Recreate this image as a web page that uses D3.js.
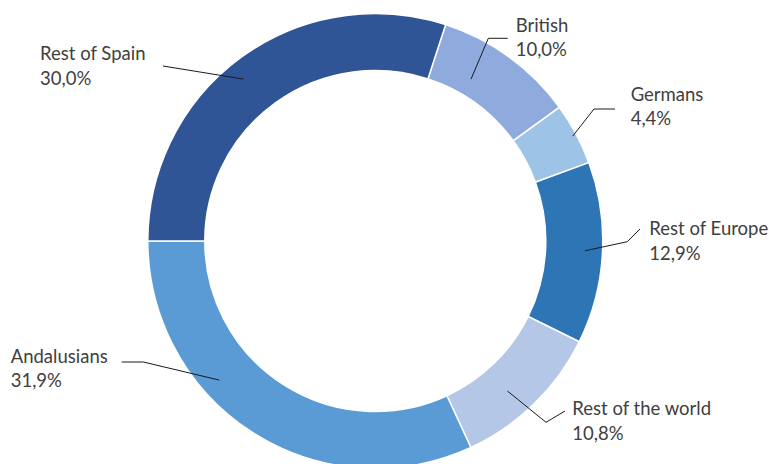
<!DOCTYPE html>
<html>
<head>
<meta charset="utf-8">
<script src="https://cdn.jsdelivr.net/npm/d3@7"></script>
<style>
  html, body { margin: 0; padding: 0; background: #fff; }
  svg { display: block; }
  text { font-family: Lato, "Open Sans", sans-serif; fill: #404040; }
</style>
</head>
<body>
<script>
// Visitor origin shares (%), clockwise from the British slice
const categories = ["British", "Germans", "Rest of Europe", "Rest of the world", "Andalusians", "Rest of Spain"];
const shares = [10.0, 4.4, 12.9, 10.8, 31.9, 30.0];
const labelValues = ["10,0%", "4,4%", "12,9%", "10,8%", "31,9%", "30,0%"];
const colors = ["#8FAADC", "#9DC3E6", "#2E75B6", "#B4C7E7", "#5B9BD5", "#2F5597"];

const W = 769, H = 464;
const cx = 375.3, cy = 241;
const outerR = 227.5, innerR = 170.5;
const firstSliceDeg = 18;

// Label placement: text origin, leader path start/elbow, and where the leader
// lands inside the ring (offset from slice mid-angle, radius)
const labelLayout = [
  { tx: 515.7, ty: 31.7, path: [[507.7, 38.3], [488.3, 38.3]], dAng: -5.4, rTip: 188 },
  { tx: 630.7, ty: 100.7, path: [[615, 109], [594, 109]], dAng: 0.1, rTip: 223.5 },
  { tx: 649.3, ty: 235, path: [[640, 229], [627.3, 241.7]], dAng: -0.4, rTip: 210 },
  { tx: 572.3, ty: 415, path: [[565, 411], [546, 422.3]], dAng: 2.9, rTip: 200 },
  { tx: 10.7, ty: 362.7, path: [[121.7, 362], [143.3, 362]], dAng: 15.7, rTip: 209 },
  { tx: 40, ty: 60, path: [[163, 66]], dAng: -3.2, rTip: 209 }
];

const svg = d3.select("body").append("svg")
  .attr("width", W).attr("height", H);

const rad = d => d * Math.PI / 180;

const pie = d3.pie()
  .sort(null)
  .value(d => d)
  .startAngle(rad(firstSliceDeg))
  .endAngle(rad(firstSliceDeg + 360));

const arcs = pie(shares);

const arc = d3.arc().innerRadius(innerR).outerRadius(outerR);

const g = svg.append("g").attr("transform", `translate(${cx},${cy})`);

g.selectAll("path.slice")
  .data(arcs)
  .join("path")
  .attr("class", "slice")
  .attr("d", arc)
  .attr("fill", (d, i) => colors[i])
  .attr("stroke", "#ffffff")
  .attr("stroke-width", 1.5);

// Leader lines
const line = d3.line();
arcs.forEach((a, i) => {
  const L = labelLayout[i];
  const ang = (a.startAngle + a.endAngle) / 2 + rad(L.dAng);
  const tip = [cx + L.rTip * Math.sin(ang), cy - L.rTip * Math.cos(ang)];
  svg.append("path")
    .attr("d", line([...L.path, tip]))
    .attr("fill", "none")
    .attr("stroke", "#1a1a1a")
    .attr("stroke-width", 1);
});

// Category name and percentage
const fs = 18.5, lh = 24.5;
categories.forEach((c, i) => {
  const L = labelLayout[i];
  const t = svg.append("text")
    .attr("x", L.tx).attr("y", L.ty)
    .attr("font-size", fs);
  t.append("tspan").attr("x", L.tx).text(c);
  t.append("tspan").attr("x", L.tx).attr("dy", lh).text(labelValues[i]);
});
</script>
</body>
</html>
